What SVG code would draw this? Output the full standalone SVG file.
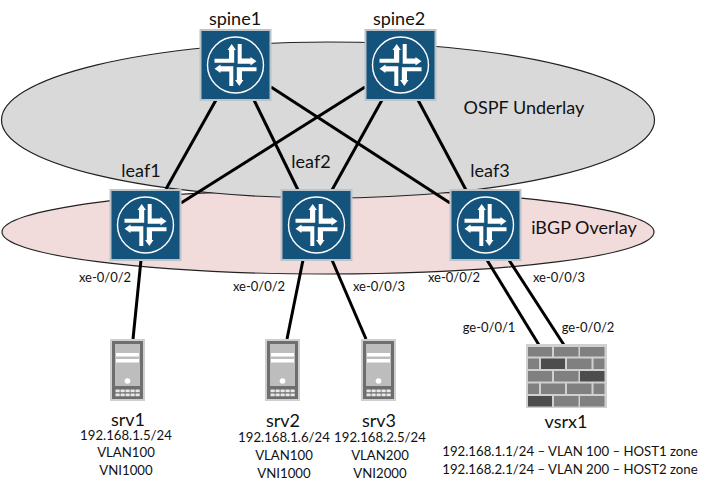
<svg xmlns="http://www.w3.org/2000/svg" xmlns:xlink="http://www.w3.org/1999/xlink" width="706" height="490" viewBox="0 0 706 490">
<style>
text{font-family:"Lato","Carlito","Liberation Sans",sans-serif;fill:#111;text-anchor:middle}
.n{font-size:18px}.z{font-size:18px}.p{font-size:13.2px}.a{font-size:13px}
.l{stroke:#000;stroke-width:3;fill:none}
.e{stroke:#222;stroke-width:1.2}
.w{fill:#fff}
.b{fill:#808080}.d{fill:#4d4d4d}
</style>
<defs>
<g id="router">
<rect x="1" y="1" width="70" height="70" fill="#14537c" stroke="#bcc4ca" stroke-width="2"/>
<circle cx="36" cy="36" r="28" fill="none" stroke="#fff" stroke-width="1.4"/>
<g transform="translate(36 36)">
<path id="q" class="w" d="M-21-6.200H-6.500V-15H-8L-3.800-21 .4-15H-1.300V-2.200H-21Z"/>
<use xlink:href="#q" href="#q" transform="rotate(90)"/>
<use xlink:href="#q" href="#q" transform="rotate(180)"/>
<use xlink:href="#q" href="#q" transform="rotate(270)"/>
</g>
</g>
<g id="server">
<rect width="35" height="62" fill="#cfcfcf"/>
<rect x="2" y="2" width="31" height="58" fill="#6e6e6e"/>
<rect x="5" y="5" width="25" height="42" fill="#bdbdbd"/>
<rect x="6" y="14" width="23" height="3.500" fill="#fff"/>
<rect x="6" y="20" width="23" height="3.500" fill="#fff"/>
<circle cx="17.500" cy="42" r="2.800" fill="#fff"/>
<path d="M5.500 50.500h4.200v2.800h-4.200zM10.500 50.500h4.200v2.800h-4.200zM15.500 50.500h4.200v2.800h-4.200zM20.500 50.500h4.200v2.800h-4.200zM25.500 50.500h4.200v2.800h-4.200zM5.500 54.500h4.200v2.800h-4.200zM10.500 54.500h4.200v2.800h-4.200zM15.500 54.500h4.200v2.800h-4.200zM20.500 54.500h4.200v2.800h-4.200zM25.500 54.500h4.200v2.800h-4.200z" fill="#e8e8e8"/>
</g>
</defs>
<rect width="706" height="490" fill="#fff"/>
<g id="areas">
<ellipse class="e" cx="328" cy="232" rx="326" ry="42" fill="#f2dcdb"/>
<ellipse class="e" cx="328" cy="120" rx="326.500" ry="78" fill="#d9d9d9"/>
</g>
<g id="connectors" class="l">
<line x1="216" y1="100" x2="166" y2="189"/>
<line x1="254" y1="100" x2="298" y2="190"/>
<line x1="271" y1="87" x2="450" y2="203"/>
<line x1="365" y1="87" x2="181" y2="203"/>
<line x1="382" y1="100" x2="332" y2="190"/>
<line x1="418" y1="100" x2="466" y2="190"/>
<line x1="141" y1="260" x2="133" y2="339"/>
<line x1="303" y1="260" x2="287" y2="339"/>
<line x1="332" y1="260" x2="366" y2="339"/>
<line x1="487" y1="260" x2="539" y2="345"/>
<line x1="509" y1="260" x2="564" y2="345"/>
</g>
<g id="spine1"><use xlink:href="#router" href="#router" x="199.500" y="29"/><text class="n" x="235" y="25">spine1</text></g>
<g id="spine2"><use xlink:href="#router" href="#router" x="364.500" y="29"/><text class="n" x="399" y="25">spine2</text></g>
<g id="leaf1"><use xlink:href="#router" href="#router" x="109.500" y="189"/><text class="n" x="141" y="177">leaf1</text></g>
<g id="leaf2"><use xlink:href="#router" href="#router" x="280.500" y="189"/><text class="n" x="311" y="168">leaf2</text></g>
<g id="leaf3"><use xlink:href="#router" href="#router" x="449.500" y="189"/><text class="n" x="490" y="177">leaf3</text></g>
<g id="srv1"><use xlink:href="#server" href="#server" x="110" y="339"/>
<text class="n" x="128" y="426">srv1</text><text class="p" x="126" y="440">192.168.1.5/24</text><text class="p" x="126" y="457">VLAN100</text><text class="p" x="126" y="475">VNI1000</text></g>
<g id="srv2"><use xlink:href="#server" href="#server" x="265" y="339"/>
<text class="n" x="283" y="427">srv2</text><text class="p" x="284" y="442">192.168.1.6/24</text><text class="p" x="284" y="460">VLAN100</text><text class="p" x="284" y="478">VNI1000</text></g>
<g id="srv3"><use xlink:href="#server" href="#server" x="361" y="339"/>
<text class="n" x="379" y="427">srv3</text><text class="p" x="380" y="442">192.168.2.5/24</text><text class="p" x="380" y="460">VLAN200</text><text class="p" x="380" y="478">VNI2000</text></g>
<g id="vsrx1">
<rect x="526" y="344" width="81" height="64" fill="#d0d0d0"/>
<rect class="b" x="528" y="347" width="24" height="9.500"/><rect class="b" x="554" y="347" width="24.500" height="9.500"/><rect class="b" x="580" y="347" width="24.500" height="9.500"/>
<rect class="b" x="528" y="358.500" width="11" height="10.500"/><rect class="d" x="541" y="358.500" width="24" height="10.500"/><rect class="b" x="567" y="358.500" width="24.500" height="10.500"/><rect class="b" x="593.500" y="358.500" width="11" height="10.500"/>
<rect class="b" x="528" y="371" width="24" height="10.500"/><rect class="b" x="554" y="371" width="24.500" height="10.500"/><rect class="d" x="580" y="371" width="24.500" height="10.500"/>
<rect class="b" x="528" y="383.500" width="11" height="10.500"/><rect class="b" x="541" y="383.500" width="24" height="10.500"/><rect class="b" x="567" y="383.500" width="24.500" height="10.500"/><rect class="b" x="593.500" y="383.500" width="11" height="10.500"/>
<rect class="d" x="528" y="396" width="24" height="10.500"/><rect class="b" x="554" y="396" width="24.500" height="10.500"/><rect class="b" x="580" y="396" width="24.500" height="10.500"/>
<text class="n" x="566" y="428">vsrx1</text>
<text class="p" x="570" y="456">192.168.1.1/24 – VLAN 100 – HOST1 zone</text>
<text class="p" x="570" y="474">192.168.2.1/24 – VLAN 200 – HOST2 zone</text>
</g>
<g id="labels">
<text class="z" x="524" y="114">OSPF Underlay</text>
<text class="z" x="584" y="234">iBGP Overlay</text>
<text class="a" x="105" y="282">xe-0/0/2</text>
<text class="a" x="259" y="291">xe-0/0/2</text>
<text class="a" x="379" y="291">xe-0/0/3</text>
<text class="a" x="454" y="282">xe-0/0/2</text>
<text class="a" x="559" y="282">xe-0/0/3</text>
<text class="a" x="489" y="332">ge-0/0/1</text>
<text class="a" x="588" y="332">ge-0/0/2</text>
</g>
</svg>
